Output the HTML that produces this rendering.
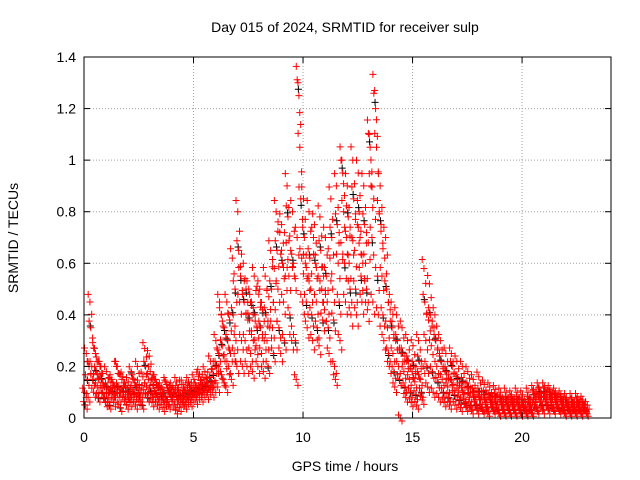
<!DOCTYPE html>
<html><head><meta charset="utf-8">
<style>
body{margin:0;background:#fff;}
svg{display:block;font-family:"Liberation Sans",sans-serif;}
</style></head>
<body>
<svg id="chart" width="640" height="480" viewBox="0 0 640 480">
<rect width="640" height="480" fill="#fff"/>
<text x="345" y="32" text-anchor="middle" font-size="14">Day 015 of 2024, SRMTID for receiver sulp</text>
<text x="345" y="471" text-anchor="middle" font-size="14">GPS time / hours</text>
<text transform="translate(18,238) rotate(-90)" text-anchor="middle" font-size="14">SRMTID / TECUs</text>
<g id="grid"></g>
<g id="marks"></g>
<rect x="84" y="57" width="527" height="361" fill="none" stroke="#000" stroke-width="1"/>
<g id="ticks"></g>
</svg>
<script>
const binStart = 0, binWidth = 0.25;
const xTicks = [0,5,10,15,20];
const yTicks = [0,0.2,0.4,0.6,0.8,1,1.2,1.4];
const yTickLabels = ["0","0.2","0.4","0.6","0.8","1","1.2","1.4"];
// red series: values per 0.25-hour bin starting at 0h
const redBins = [
[0.10,0.05,0.25,0.15,0.08,0.2],[0.45,0.35,0.2,0.15,0.1,0.27],[0.25,0.18,0.12,0.08,0.15,0.2],[0.2,0.15,0.1,0.08,0.12,0.06],
[0.18,0.12,0.08,0.05,0.1,0.14],[0.15,0.1,0.06,0.12,0.08,0.2],[0.2,0.12,0.08,0.04,0.1,0.15],[0.16,0.1,0.07,0.12,0.05,0.09],
[0.14,0.1,0.06,0.18,0.08,0.11],[0.15,0.09,0.05,0.12,0.2,0.07],[0.13,0.08,0.1,0.05,0.16,0.11],[0.27,0.2,0.12,0.08,0.15,0.24],
[0.18,0.1,0.06,0.13,0.08,0.15],[0.15,0.09,0.05,0.12,0.07,0.11],[0.12,0.08,0.04,0.1,0.06,0.14],[0.13,0.07,0.05,0.1,0.09,0.11],
[0.12,0.08,0.05,0.1,0.03,0.14],[0.11,0.07,0.04,0.09,0.13,0.06],[0.13,0.08,0.05,0.1,0.07,0.12],[0.14,0.09,0.06,0.11,0.08,0.12],
[0.15,0.1,0.07,0.12,0.09,0.16],[0.17,0.11,0.08,0.13,0.1,0.15],[0.18,0.12,0.09,0.14,0.11,0.16],[0.22,0.14,0.1,0.17,0.12,0.2],
[0.3,0.2,0.12,0.25,0.45,0.18],[0.4,0.28,0.15,0.35,0.22,0.12],[0.45,0.3,0.2,0.38,0.25,0.15],[0.62,0.4,0.25,0.5,0.3,0.2],
[0.8,0.65,0.45,0.55,0.3,0.2],[0.6,0.45,0.3,0.5,0.2,0.38],[0.5,0.38,0.25,0.45,0.18,0.3],[0.55,0.4,0.28,0.35,0.2,0.48],
[0.5,0.35,0.25,0.42,0.18,0.3],[0.55,0.4,0.3,0.2,0.47,0.35],[0.65,0.5,0.35,0.25,0.58,0.42],[0.8,0.65,0.5,0.35,0.72,0.25],
[0.75,0.6,0.45,0.3,0.55,0.68],[0.9,0.78,0.55,0.4,0.65,0.3],[0.8,0.6,0.55,0.3,0.15,0.7],[1.3,1.25,1.05,0.85,0.62,0.45],
[0.85,0.7,0.6,0.45,0.35,0.55],[0.8,0.62,0.5,0.4,0.3,0.7],[0.75,0.6,0.45,0.35,0.55,0.28],[0.78,0.65,0.5,0.38,0.55,0.42],
[0.7,0.55,0.45,0.35,0.25,0.62],[0.85,0.7,0.5,0.38,0.2,0.15],[0.9,0.75,0.6,0.45,0.3,0.68],[1.0,0.95,0.8,0.6,0.45,0.7],
[0.9,0.78,0.6,0.5,0.4,0.7],[1.0,0.85,0.65,0.5,0.4,0.75],[0.95,0.8,0.7,0.55,0.45,0.6],[0.9,0.75,0.6,0.5,0.42,0.68],
[1.1,1.05,0.9,0.7,0.45,0.85],[1.27,1.2,1.05,0.55,0.4,0.8],[0.9,0.75,0.55,0.4,0.3,0.62],[0.7,0.5,0.35,0.25,0.2,0.42],
[0.45,0.35,0.25,0.18,0.12,0.3],[0.4,0.3,0.2,0.15,0.0,0.25],[0.35,0.25,0.18,0.12,0.08,0.22],[0.3,0.22,0.15,0.1,0.06,0.18],
[0.28,0.2,0.14,0.09,0.05,0.18],[0.3,0.22,0.15,0.1,0.07,0.2],[0.58,0.45,0.3,0.2,0.12,0.38],[0.52,0.4,0.28,0.18,0.1,0.35],
[0.4,0.3,0.2,0.14,0.08,0.25],[0.3,0.22,0.15,0.1,0.06,0.18],[0.25,0.18,0.12,0.08,0.05,0.15],[0.25,0.2,0.13,0.09,0.05,0.16],
[0.22,0.15,0.1,0.07,0.04,0.12],[0.2,0.14,0.09,0.06,0.04,0.12],[0.18,0.12,0.08,0.05,0.03,0.1],[0.15,0.1,0.07,0.05,0.03,0.09],
[0.16,0.1,0.07,0.04,0.03,0.09],[0.13,0.09,0.06,0.04,0.02,0.08],[0.12,0.08,0.06,0.04,0.03,0.07],[0.11,0.08,0.05,0.03,0.02,0.07],
[0.1,0.07,0.05,0.03,0.02,0.06],[0.1,0.07,0.05,0.03,0.02,0.06],[0.09,0.07,0.05,0.03,0.02,0.06],[0.1,0.07,0.05,0.03,0.02,0.06],
[0.09,0.06,0.04,0.03,0.02,0.05],[0.1,0.07,0.05,0.03,0.02,0.06],[0.11,0.09,0.06,0.04,0.03,0.08],[0.12,0.1,0.07,0.05,0.03,0.08],
[0.12,0.1,0.07,0.05,0.03,0.09],[0.11,0.09,0.06,0.04,0.03,0.08],[0.1,0.08,0.05,0.04,0.03,0.07],[0.09,0.07,0.05,0.03,0.02,0.06],
[0.08,0.06,0.04,0.03,0.02,0.05],[0.08,0.06,0.04,0.03,0.02,0.05],[0.08,0.06,0.04,0.03,0.02,0.05],[0.07,0.05,0.04,0.03,0.02,0.05]
];
// black series: sparser values per 0.25-hour bin
const blackBins = redBins.map(b => [b[1]*1.02, b[3]*0.97]);

const X0=84, X1=611, Y0=418, Y1=57;
const xScale = h => X0 + h/ 24.06 * (X1-X0);
const yScale = v => Y0 - v/1.4*(Y0-Y1);
const NS="http://www.w3.org/2000/svg";
const grid=document.getElementById('grid'), ticks=document.getElementById('ticks'), marks=document.getElementById('marks');
function mk(tag,attrs,parent){const e=document.createElementNS(NS,tag);for(const k in attrs)e.setAttribute(k,attrs[k]);parent.appendChild(e);return e;}
yTicks.forEach((v,i)=>{
  const y=yScale(v);
  if(i>0&&i<yTicks.length-1){const g=mk('line',{x1:X0,x2:X1,y1:y,y2:y,stroke:'#a0a0a0','stroke-dasharray':'1,2'},grid);
  
  }
  mk('line',{x1:X0,x2:X0+6,y1:y,y2:y,stroke:'#000'},ticks);
  mk('line',{x1:X1,x2:X1-6,y1:y,y2:y,stroke:'#000'},ticks);
  const t=mk('text',{x:X0-8,y:y+5,'text-anchor':'end','font-size':'14'},ticks);
  t.textContent=yTickLabels[i];
  
  
});
xTicks.forEach(h=>{
  const x=xScale(h);
  if(h>0){const g=mk('line',{x1:x,x2:x,y1:Y0,y2:Y1,stroke:'#a0a0a0','stroke-dasharray':'1,2'},grid);
  
  }
  mk('line',{x1:x,x2:x,y1:Y0,y2:Y0-6,stroke:'#000'},ticks);
  mk('line',{x1:x,x2:x,y1:Y1,y2:Y1+6,stroke:'#000'},ticks);
  const t=mk('text',{x:x,y:Y0+24,'text-anchor':'middle','font-size':'14'},ticks);
  t.textContent=String(h);
  
  
});
function plus(x,y,color,name){
  const p=mk('path',{d:`M${x-3.5},${y}h7M${x},${y-3.5}v7`,stroke:color,'stroke-width':'1',fill:'none'},marks);
  
  
}
// each value is drawn as a small cluster of marks to mimic the dense sampling
const cluster=[[0,0,1],[0.35,3,0.92],[-0.35,-3,1.04]];
blackBins.forEach((b,i)=>b.forEach((v,j)=>{
  const h=binStart+i*binWidth+(j+0.3)/b.length*binWidth;
  plus(xScale(h),yScale(v),'#000','black-point');
}));
redBins.forEach((b,i)=>b.forEach((v,j)=>{
  const h=binStart+i*binWidth+(j+0.5)/b.length*binWidth;
  cluster.forEach(c=>plus(xScale(h)+c[0]*5,yScale(v*c[2])+c[1],'#ff0000','red-point'));
}));
</script>
</body></html>
